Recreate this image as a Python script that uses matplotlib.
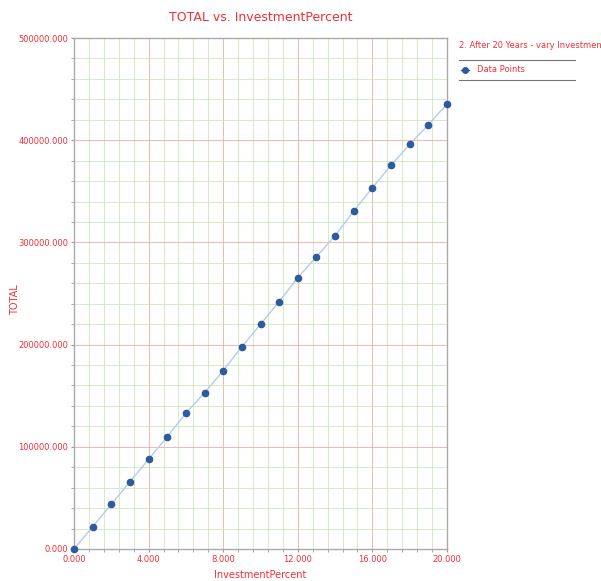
import matplotlib.pyplot as plt
from matplotlib.lines import Line2D
from matplotlib.ticker import MultipleLocator, FormatStrFormatter

# Investment percent vs total after 20 years
investment_percent = [0, 1, 2, 3, 4, 5, 6, 7, 8, 9, 10,
                      11, 12, 13, 14, 15, 16, 17, 18, 19, 20]
total = [0, 21800, 43700, 65900, 87800, 109900, 132800, 152900, 174500,
         197900, 219900, 242000, 265500, 286000, 306600, 330700,
         353500, 375400, 396000, 415200, 435400]

red = '#f0303a'
px = 1/100
fig = plt.figure(figsize=(601*px, 581*px), dpi=100)
ax = fig.add_axes([74/601, 32/581, 373/601, 511/581])

ax.plot(investment_percent, total, color='#b4cde6', linewidth=1, zorder=3)
ax.plot(investment_percent, total, linestyle='none', marker='o', markersize=4.5,
        color='#2d5b9e', zorder=4, clip_on=False)

ax.set_xlim(0, 20)
ax.set_ylim(0, 500000)
ax.xaxis.set_major_locator(MultipleLocator(4))
ax.xaxis.set_minor_locator(MultipleLocator(0.8))
ax.yaxis.set_major_locator(MultipleLocator(100000))
ax.yaxis.set_minor_locator(MultipleLocator(20000))
ax.xaxis.set_major_formatter(FormatStrFormatter('%.3f'))
ax.yaxis.set_major_formatter(FormatStrFormatter('%.3f'))

ax.grid(which='minor', color='#cde8bd', linewidth=0.6, zorder=1)
ax.grid(which='major', color='#f5a8a8', linewidth=0.6, zorder=2)
ax.set_axisbelow(True)

ax.tick_params(which='both', direction='out', colors='#999999',
               labelcolor=red, labelsize=6, length=2, pad=2)
for s in ax.spines.values():
    s.set_color('#aaaaaa')
    s.set_linewidth(1)

ax.set_title('TOTAL vs. InvestmentPercent', color=red, fontsize=9, pad=12)

# axis labels placed like the reference
fig.text(260/601, 1-575/581, 'InvestmentPercent', color=red, fontsize=7,
         ha='center', va='center')
fig.text(15/601, 1-300/581, 'TOTAL', color=red, fontsize=7,
         ha='center', va='center', rotation=90)

# legend on the right side
fig.text(459/601, 1-45/581, '2. After 20 Years - vary Investment',
         color=red, fontsize=6, va='center', ha='left')
for yy in (60, 80):
    fig.add_artist(Line2D([459/601, 575/601], [1-yy/581, 1-yy/581],
                          color='#777777', linewidth=0.8))
fig.add_artist(Line2D([461/601, 469/601], [1-70/581, 1-70/581],
                      color='#2d5b9e', linewidth=1))
fig.add_artist(Line2D([465/601], [1-70/581], marker='o', markersize=4,
                      color='#2d5b9e'))
fig.text(477/601, 1-70/581, 'Data Points', color=red, fontsize=6,
         va='center', ha='left')

fig.savefig('out.png', dpi=100)
